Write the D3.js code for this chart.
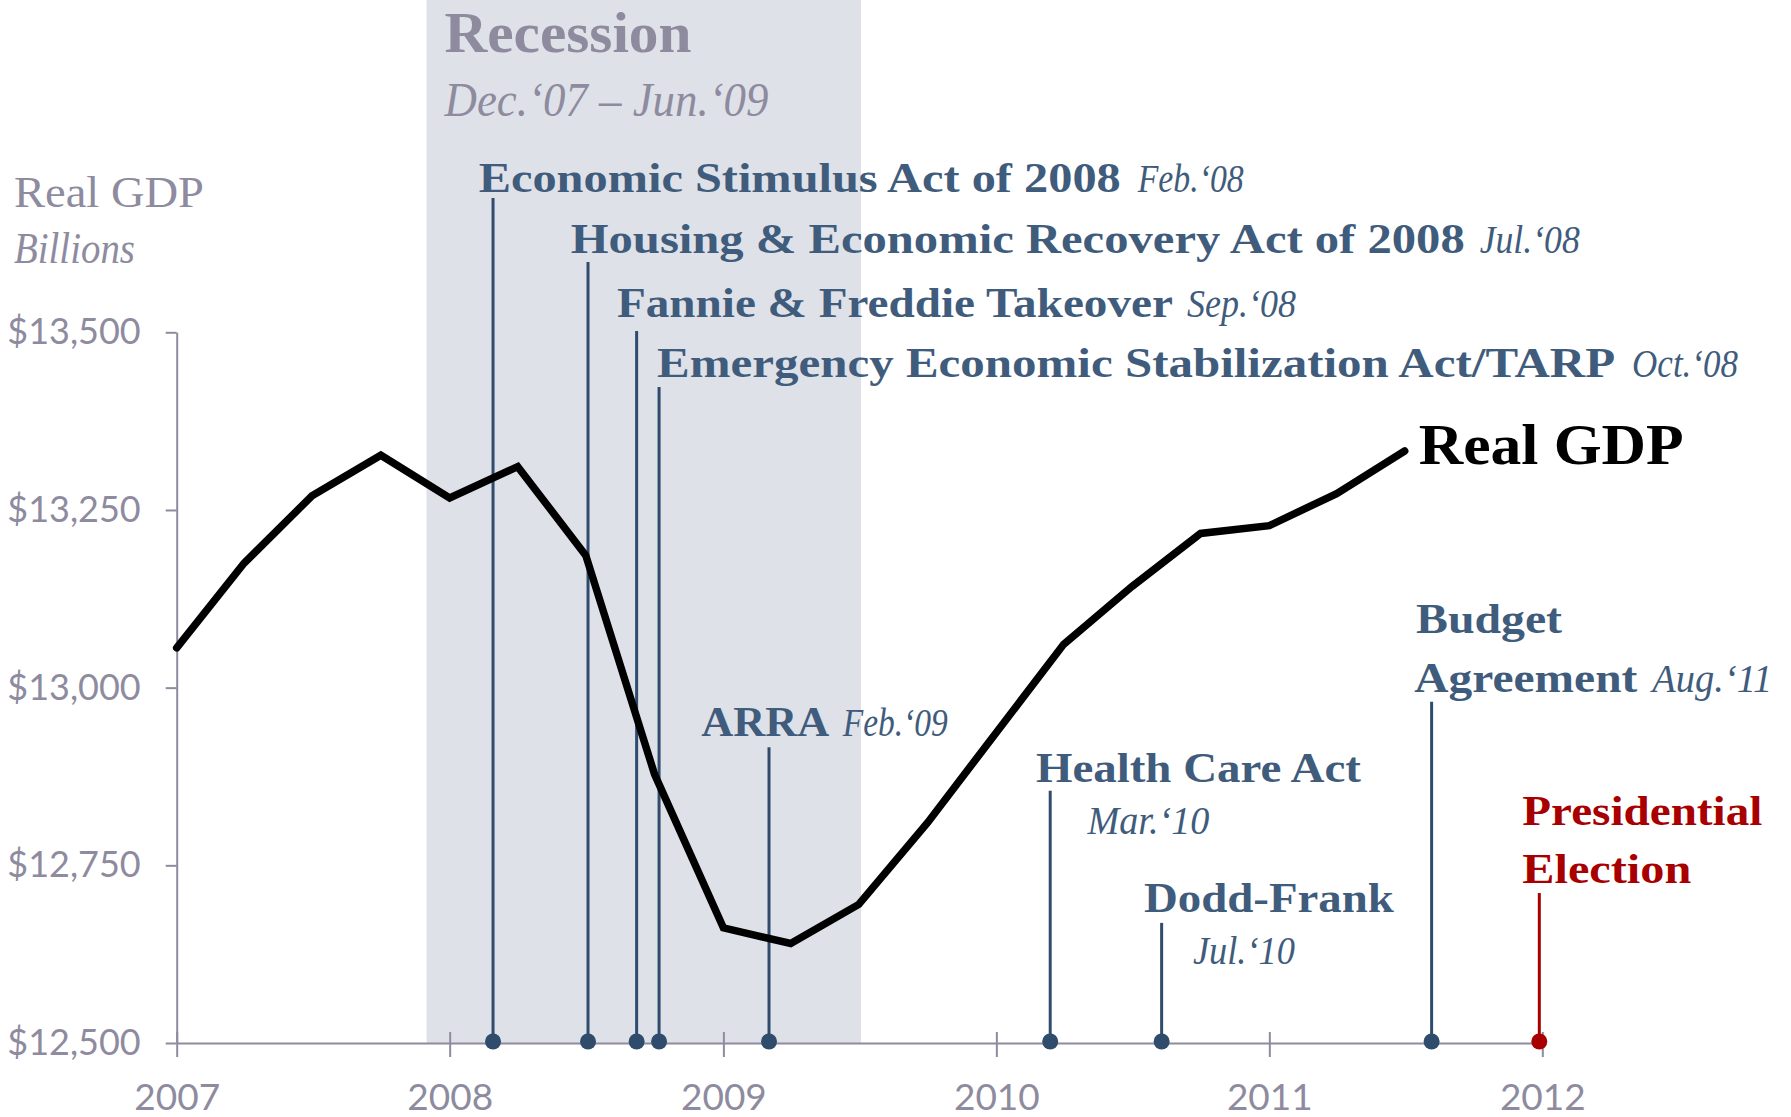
<!DOCTYPE html>
<html>
<head>
<meta charset="utf-8">
<script src="https://cdn.jsdelivr.net/npm/d3@7"></script>
<style>
  html, body { margin: 0; padding: 0; background: #ffffff; }
  svg { display: block; }
</style>
</head>
<body>
<svg id="chart" width="1791" height="1117"></svg>
<script>
// ---------------- DATA ----------------
const quarterDates = [
  "2007-01-01", "2007-04-01", "2007-07-01", "2007-10-01",
  "2008-01-01", "2008-04-01", "2008-07-01", "2008-10-01",
  "2009-01-01", "2009-04-01", "2009-07-01", "2009-10-01",
  "2010-01-01", "2010-04-01", "2010-07-01", "2010-10-01",
  "2011-01-01", "2011-04-01", "2011-07-01"
];
const realGdp = [
  13056, 13175, 13270, 13327,
  13267, 13311, 13186, 12878,
  12662, 12640, 12695, 12810,
  12937, 13061, 13142, 13217,
  13228, 13273, 13333
];
const yTickValues = [12500, 12750, 13000, 13250, 13500];
const xTickLabels = ["2007", "2008", "2009", "2010", "2011", "2012"];
const recessionSpan = ["2007-12-01", "2009-07-04"];
const recessionTitle = "Recession";
const recessionDates = "Dec.\u201807 \u2013 Jun.\u201809";
const yTitle = "Real GDP";
const ySubtitle = "Billions";
const seriesName = "Real GDP";

const eventNames = [
  "Economic Stimulus Act of 2008",
  "Housing & Economic Recovery Act of 2008",
  "Fannie & Freddie Takeover",
  "Emergency Economic Stabilization Act/TARP",
  "ARRA",
  "Health Care Act",
  "Dodd-Frank",
  "Budget Agreement",
  "Presidential Election"
];
const eventDateLabels = [
  "Feb.\u201808", "Jul.\u201808", "Sep.\u201808", "Oct.\u201808",
  "Feb.\u201809", "Mar.\u201810", "Jul.\u201810", "Aug.\u201811", ""
];
const eventDates = [
  "2008-02-28", "2008-07-04", "2008-09-07", "2008-10-07",
  "2009-03-03", "2010-03-14", "2010-08-10", "2011-08-06", "2011-12-28"
];
const eventKinds = ["policy", "policy", "policy", "policy", "policy", "policy", "policy", "policy", "election"];

// ---------------- LAYOUT (annotation placement) ----------------
// stemTop is in $ billions (read through the y scale); dx/dy in px relative to stem top
const eventLayout = [
  { stemTop: 13689, lines: [ { dy: -6,  parts: [ { src: "name", dx: -14.3, w: 642 }, { src: "date", dx: 644.7, w: 106 } ] } ] },
  { stemTop: 13599, lines: [ { dy: -9,  parts: [ { src: "name", dx: -17.3, w: 894 }, { src: "date", dx: 891.7, w: 100 } ] } ] },
  { stemTop: 13502, lines: [ { dy: -14, parts: [ { src: "name", dx: -19.7, w: 556 }, { src: "date", dx: 550.3, w: 109 } ] } ] },
  { stemTop: 13423, lines: [ { dy: -10, parts: [ { src: "name", dx: -2,    w: 958 }, { src: "date", dx: 973,   w: 106 } ] } ] },
  { stemTop: 12916, lines: [ { dy: -11, parts: [ { src: "name", dx: -67.8, w: 128 }, { src: "date", dx: 73.7,  w: 105 } ] } ] },
  { stemTop: 12855, lines: [ { dy: -9,  parts: [ { src: "name", dx: -14.3, w: 325 } ] },
                             { dy: 43,  parts: [ { src: "date", dx: 37.2,  w: 122 } ] } ] },
  { stemTop: 12669, lines: [ { dy: -11, parts: [ { src: "name", dx: -17.7, w: 250 } ] },
                             { dy: 41,  parts: [ { src: "date", dx: 31.3,  w: 102 } ] } ] },
  { stemTop: 12980, lines: [ { dy: -69, parts: [ { src: "name", words: [0, 1], dx: -15.6, w: 146 } ] },
                             { dy: -10, parts: [ { src: "name", words: [1, 2], dx: -17.3, w: 223 }, { src: "date", dx: 220.7, w: 120 } ] } ] },
  { stemTop: 12711, lines: [ { dy: -68, parts: [ { src: "name", words: [0, 1], dx: -17, w: 240 } ] },
                             { dy: -10, parts: [ { src: "name", words: [1, 2], dx: -17, w: 169 } ] } ] }
];

// ---------------- STYLE ----------------
const W = 1791, H = 1117;
const serif = "'Liberation Serif', 'Times New Roman', serif";
const sans = "Lato, 'Open Sans', sans-serif";
const grayText = "#8e8b9f";
const axisColor = "#8e8b9f";
const recessionFill = "#dfe1e9";
const policyText = "#3f5c7c";
const policyLine = "#304c6c";
const electionColor = "#a80000";

const parse = d3.timeParse("%Y-%m-%d");
const svg = d3.select("#chart");

const x = d3.scaleTime()
  .domain([parse("2007-01-01"), parse("2012-01-01")])
  .range([176.7, 1542.3]);
const y = d3.scaleLinear()
  .domain([12500, 13500])
  .range([1043, 332.3]);

function fit(sel, w) {
  sel.attr("textLength", w).attr("lengthAdjust", "spacingAndGlyphs");
  return sel;
}

// Recession band
const r0 = x(parse(recessionSpan[0])), r1 = x(parse(recessionSpan[1]));
svg.append("rect")
  .attr("x", r0).attr("y", 0)
  .attr("width", r1 - r0).attr("height", y(12500))
  .attr("fill", recessionFill);

fit(svg.append("text")
  .attr("x", r0 + 18).attr("y", 52)
  .attr("font-family", serif).attr("font-weight", "bold").attr("font-size", 56)
  .attr("fill", grayText).text(recessionTitle), 247);
fit(svg.append("text")
  .attr("x", r0 + 18).attr("y", 116)
  .attr("font-family", serif).attr("font-style", "italic").attr("font-size", 48)
  .attr("fill", grayText).text(recessionDates), 324);

// Y axis titles
fit(svg.append("text")
  .attr("x", 14).attr("y", 207)
  .attr("font-family", serif).attr("font-size", 45)
  .attr("fill", grayText).text(yTitle), 190);
fit(svg.append("text")
  .attr("x", 14).attr("y", 263)
  .attr("font-family", serif).attr("font-style", "italic").attr("font-size", 45)
  .attr("fill", grayText).text(ySubtitle), 121);

// Y axis
const yAxis = svg.append("g")
  .attr("transform", `translate(${x.range()[0]},0)`)
  .call(d3.axisLeft(y).tickValues(yTickValues).tickSize(11).tickSizeOuter(0).tickPadding(25)
    .tickFormat(d => "$" + d3.format(",")(d)));
yAxis.select(".domain").attr("stroke", axisColor).attr("stroke-width", 2);
yAxis.selectAll(".tick line").attr("stroke", axisColor).attr("stroke-width", 2);
yAxis.selectAll(".tick text")
  .attr("font-family", sans).attr("font-size", 36).attr("fill", grayText);

// X axis
const xTickDates = xTickLabels.map(s => parse(s + "-01-01"));
const xAxis = svg.append("g")
  .attr("transform", `translate(0,${y(12500)})`)
  .call(d3.axisBottom(x).tickValues(xTickDates).tickSize(14).tickSizeOuter(0)
    .tickFormat(d3.timeFormat("%Y")));
xAxis.select(".domain").attr("stroke", axisColor).attr("stroke-width", 2);
xAxis.selectAll(".tick line").attr("stroke", axisColor).attr("stroke-width", 2)
  .attr("y1", -11).attr("y2", 14);
xAxis.selectAll(".tick text")
  .attr("font-family", sans).attr("font-size", 37).attr("fill", grayText)
  .attr("y", 67).attr("dy", 0);
svg.selectAll(".domain").attr("fill", "none");

// Event stems and dots
const events = eventNames.map((name, i) => ({
  name, dateLabel: eventDateLabels[i], date: parse(eventDates[i]), kind: eventKinds[i], layout: eventLayout[i]
}));
const colorOf = e => e.kind === "election" ? electionColor : policyLine;
const textColorOf = e => e.kind === "election" ? electionColor : policyText;

svg.append("g").selectAll("line")
  .data(events).join("line")
  .attr("x1", d => x(d.date)).attr("x2", d => x(d.date))
  .attr("y1", d => y(d.layout.stemTop)).attr("y2", y(12500) - 2)
  .attr("stroke", colorOf).attr("stroke-width", 3);

svg.append("g").selectAll("circle")
  .data(events).join("circle")
  .attr("cx", d => x(d.date)).attr("cy", y(12500) - 1.5)
  .attr("r", 8)
  .attr("fill", colorOf);

// GDP line
const gdpData = quarterDates.map((d, i) => ({ date: parse(d), value: realGdp[i] }));
svg.append("path")
  .datum(gdpData)
  .attr("fill", "none")
  .attr("stroke", "#000")
  .attr("stroke-width", 7.5)
  .attr("stroke-linejoin", "miter")
  .attr("stroke-linecap", "round")
  .attr("d", d3.line().x(d => x(d.date)).y(d => y(d.value)));

const last = gdpData[gdpData.length - 1];
fit(svg.append("text")
  .attr("x", x(last.date) + 14).attr("y", y(last.value) + 13)
  .attr("font-family", serif).attr("font-weight", "bold").attr("font-size", 57)
  .attr("fill", "#000").text(seriesName), 265);

// Event labels
const labelG = svg.append("g");
events.forEach(e => {
  const sx = x(e.date), sy = y(e.layout.stemTop);
  e.layout.lines.forEach(line => {
    line.parts.forEach(p => {
      let txt;
      if (p.src === "name") {
        const words = e.name.split(" ");
        txt = p.words ? words.slice(p.words[0], p.words[1]).join(" ") : e.name;
      } else {
        txt = e.dateLabel;
      }
      const t = labelG.append("text")
        .attr("x", sx + p.dx).attr("y", sy + line.dy)
        .attr("font-family", serif)
        .attr("fill", textColorOf(e))
        .text(txt);
      if (p.src === "name") {
        t.attr("font-weight", "bold").attr("font-size", 43);
      } else {
        t.attr("font-style", "italic").attr("font-size", 39);
      }
      fit(t, p.w);
    });
  });
});
</script>
</body>
</html>
